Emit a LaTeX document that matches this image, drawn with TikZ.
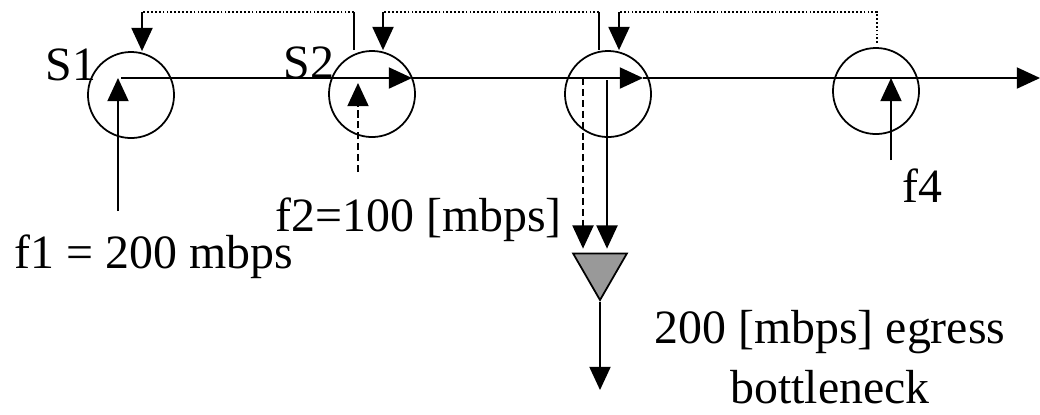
\documentclass[tikz,border=0pt]{standalone}
\usepackage{fontspec}
\setmainfont{Liberation Serif}
\usetikzlibrary{arrows.meta, positioning, shapes.geometric}
\tikzset{
  router/.style={
    circle,
    draw=black,
    line width=0.5pt,
    inner sep=0pt,
    minimum size=0.86cm
  },
  bneck/.style={
    regular polygon,
    regular polygon sides=3,
    shape border rotate=180,
    draw=black,
    fill=black!40,
    line width=0.5pt,
    inner sep=0pt,
    minimum size=0.62cm
  },
  lbl/.style={
    inner sep=0pt,
    font=\fontsize{13.6}{17}\selectfont
  },
  flow/.style={-{Triangle[length=6.6pt, width=6pt]}, line width=0.5pt},
  dashflow/.style={flow, dash pattern=on 2pt off 1.1pt},
  fbline/.style={line width=0.35pt, dash pattern=on 0.5pt off 0.6pt}
}
\begin{document}
\begin{tikzpicture}[x=0.01cm, y=-0.01cm]
  \useasboundingbox (0,0) rectangle (1040,414);

  \node[router] (s1) at (131,95) {};
  \node[router] (s2) at (372,94) {};
  \node[router] (s3) at (608,94) {};
  \node[router] (s4) at (876,91) {};
  \node[bneck] (bn) at (600,269) {};

  \node[lbl, anchor=base west] (s1lbl) at (45,80) {S1};
  \node[lbl, anchor=base west] (s2lbl) at (283,78) {S2};
  \node[lbl, anchor=base west] (f1lbl) at (14,268) {f1 = 200 mbps};
  \node[lbl, anchor=base west] (f2lbl) at (275,231) {f2=100 [mbps]};
  \node[lbl, anchor=base west] (f4lbl) at (902,202) {f4};
  \node[lbl, align=center, anchor=base] (egress) at (830,403) {200 [mbps] egress\\bottleneck};

  \coordinate (busin) at (121,78);
  \coordinate (busout) at (1040,78);
  \coordinate (tip2) at (412,78);
  \coordinate (tip3) at (643,78);
  \coordinate (f1src) at (118,211);
  \coordinate (f2src) at (358,172);
  \coordinate (f4src) at (891,160);
  \coordinate (fb1a) at (354,50);
  \coordinate (fb1b) at (142,12);
  \coordinate (fb2a) at (599,50);
  \coordinate (fb2b) at (383,12);
  \coordinate (fb3a) at (877,43);
  \coordinate (fb3b) at (619,12);
  \coordinate (d1) at (583,78);
  \coordinate (d2) at (607,80);
  \coordinate (out) at (600,390);

  \draw[flow] (busin) -- (tip2);
  \draw[flow] (tip2) -- (tip3);
  \draw[flow] (tip3) -- (busout);

  \draw[flow] (f1src) -- (f1src |- busin);
  \draw[dashflow, shorten >=0.05cm] (f2src) -- (f2src |- busin);
  \draw[flow] (f4src) -- (f4src |- busin);

  \draw[line width=0.5pt] (fb1a) -- (fb1a |- fb1b);
  \draw[fbline] (fb1a |- fb1b) -- (fb1b);
  \draw[flow] (fb1b) -- (fb1b |- s1.north);
  \draw[line width=0.5pt] (fb2a) -- (fb2a |- fb2b);
  \draw[fbline] (fb2a |- fb2b) -- (fb2b);
  \draw[flow] (fb2b) -- (fb2b |- s2.north);
  \draw[fbline] (fb3a) -- (fb3a |- fb3b) -- (fb3b);
  \draw[flow] (fb3b) -- (fb3b |- s3.north);

  \draw[dashflow, shorten >=0.04cm] (d1) -- (d1 |- bn.north);
  \draw[flow, shorten >=0.04cm] (d2) -- (d2 |- bn.north);
  \draw[flow] (bn.south) -- (out);
\end{tikzpicture}
\end{document}
